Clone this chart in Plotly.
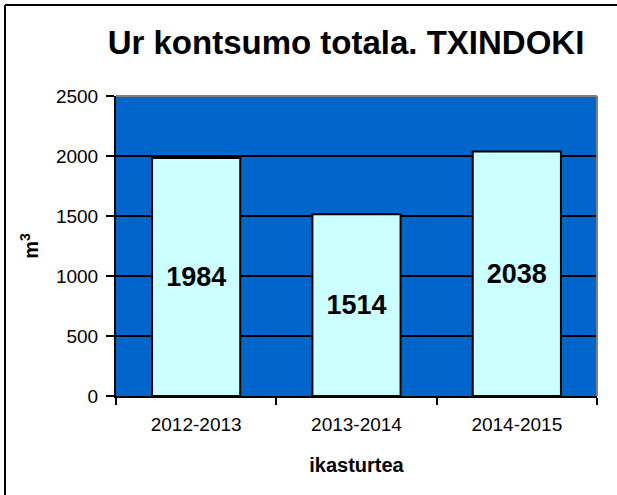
import plotly.graph_objects as go

categories = ["2012-2013", "2013-2014", "2014-2015"]
values = [1984, 1514, 2038]
y_ticks = [0, 500, 1000, 1500, 2000, 2500]

W, H = 617, 495
L, R, T, B = 116, 20, 96, 99
pw, ph = W - L - R, H - T - B

def px_x(x):
    return (x - L) / pw

def px_y(y):
    return (H - B - y) / ph

fig = go.Figure(go.Bar(
    x=categories, y=values,
    text=[str(v) for v in values],
    textposition="inside", insidetextanchor="middle",
    textfont=dict(family="Liberation Sans, Arial", size=27, color="black", weight="bold"),
    marker=dict(color="#CCFFFF", line=dict(color="black", width=2)),
    width=0.55,
))

fig.update_layout(
    width=W, height=H,
    margin=dict(l=L, r=R, t=T, b=B),
    paper_bgcolor="white", plot_bgcolor="#0066CC",
    font=dict(family="Liberation Sans, Arial", color="black"),
    showlegend=False,
    title=dict(text="<b>Ur kontsumo totala. TXINDOKI</b>", font=dict(size=33),
               x=346 / W, xanchor="center", y=1 - 42 / H, yanchor="middle"),
    xaxis=dict(
        showline=True, linecolor="black", linewidth=2,
        ticks="outside", tickson="boundaries", ticklen=7, tickcolor="black", tickwidth=2,
        tickfont=dict(size=19), ticklabelstandoff=10, showgrid=False,
        title=dict(text="<b>ikasturtea</b>", font=dict(size=20), standoff=24),
    ),
    yaxis=dict(
        range=[0, 2500], tickvals=y_ticks,
        showline=True, linecolor="black", linewidth=2,
        ticks="outside", ticklen=8, tickcolor="black", tickwidth=2,
        tickfont=dict(size=19), ticklabelstandoff=4,
        showgrid=True, gridcolor="black", gridwidth=2, zeroline=False,
        title=dict(text="<b>m<sup>3</sup></b>", font=dict(size=20), standoff=12),
    ),
    shapes=[
        dict(type="line", xref="paper", yref="paper", x0=0, x1=1, y0=1, y1=1,
             line=dict(color="#808080", width=2)),
        dict(type="line", xref="paper", yref="paper", x0=1, x1=1, y0=0, y1=1,
             line=dict(color="#808080", width=2)),
        dict(type="line", xref="paper", yref="paper", x0=px_x(5), x1=px_x(W + 5),
             y0=px_y(5), y1=px_y(5), line=dict(color="black", width=2)),
        dict(type="line", xref="paper", yref="paper", x0=px_x(5), x1=px_x(5),
             y0=px_y(5), y1=px_y(H + 5), line=dict(color="black", width=2)),
    ],
)

fig.write_html("out.html", config={"displayModeBar": False},
               post_script="document.body.style.margin='0';")
